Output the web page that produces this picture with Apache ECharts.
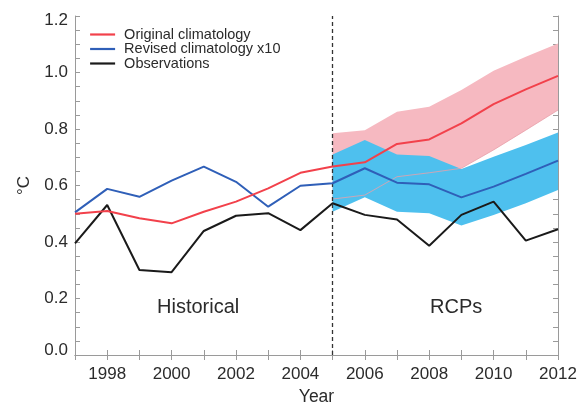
<!DOCTYPE html>
<html>
<head>
<meta charset="utf-8">
<script src="https://cdn.jsdelivr.net/npm/echarts@6/dist/echarts.min.js"></script>
<style>
  html, body { margin: 0; padding: 0; background: #fff; }
  #chart { width: 579px; height: 403px; }
</style>
</head>
<body>
<div id="chart"></div>
<script>
// Global temperature: model climatologies vs observations
const years = ['1997','1998','1999','2000','2001','2002','2003','2004',
               '2005','2006','2007','2008','2009','2010','2011','2012'];
const originalClim = [0.500, 0.510, 0.484, 0.466, 0.507, 0.543, 0.590, 0.645,
                      0.667, 0.682, 0.747, 0.763, 0.820, 0.888, 0.940, 0.988];
const revisedClim  = [0.505, 0.588, 0.560, 0.617, 0.667, 0.613, 0.525, 0.599,
                      0.608, 0.661, 0.610, 0.604, 0.558, 0.596, 0.641, 0.688];
const observations = [0.395, 0.531, 0.301, 0.293, 0.439, 0.493, 0.502, 0.442,
                      0.537, 0.496, 0.480, 0.387, 0.496, 0.543, 0.405, 0.445];
// RCP spread, 2005-2012
const bandYears    = ['2005','2006','2007','2008','2009','2010','2011','2012'];
const originalLow  = [0.552, 0.566, 0.631, 0.645, 0.661, 0.726, 0.796, 0.867];
const originalHigh = [0.785, 0.796, 0.861, 0.879, 0.938, 1.006, 1.056, 1.103];
const revisedLow   = [0.507, 0.558, 0.507, 0.502, 0.458, 0.496, 0.537, 0.584];
const revisedHigh  = [0.710, 0.761, 0.710, 0.704, 0.658, 0.702, 0.743, 0.788];
const yTicks = [0.0, 0.2, 0.4, 0.6, 0.8, 1.0, 1.2];

// place the band values on the full year axis
function onYears(vals) {
  return years.map(y => {
    const i = bandYears.indexOf(y);
    return i < 0 ? '-' : vals[i];
  });
}
function span(lo, hi) { return lo.map((v, i) => +(hi[i] - v).toFixed(3)); }

const font = 'Liberation Sans, Arial, sans-serif';
const axisGrey = '#9a9a9a';
const textCol = '#2b2b2b';

const chart = echarts.init(document.getElementById('chart'), null, { renderer: 'canvas' });

const tickInside = { show: true, inside: true, length: 5, interval: 0,
                     lineStyle: { color: axisGrey, width: 1 } };
const yLabelText = { fontFamily: font, fontSize: 17, color: textCol };

chart.setOption({
  animation: false,
  backgroundColor: '#fff',
  grid: { left: 75, right: 21, top: 16, bottom: 48, outerBoundsMode: 'none' },
  legend: {
    orient: 'vertical',
    left: 84, top: 22,
    itemWidth: 25, itemHeight: 14, itemGap: -0.5,
    itemStyle: { opacity: 0 },
    lineStyle: { width: 2.2 },
    data: ['Original climatology', 'Revised climatology x10', 'Observations'],
    textStyle: { fontFamily: font, fontSize: 14.5, color: textCol, lineHeight: 14,
                 padding: [0, 0, 0, 4] }
  },
  xAxis: [
    {
      type: 'category', data: years, boundaryGap: false,
      name: 'Year', nameLocation: 'middle', nameGap: 33,
      nameTextStyle: { fontFamily: font, fontSize: 17.5, color: textCol },
      axisLine: { lineStyle: { color: axisGrey } },
      axisTick: tickInside,
      axisLabel: {
        interval: (i, v) => (+v) % 2 === 0,
        margin: 11, fontFamily: font, fontSize: 17, color: textCol
      },
      splitLine: { show: false }
    },
    {
      type: 'category', data: years, boundaryGap: false, position: 'top',
      axisLine: { lineStyle: { color: axisGrey } },
      axisTick: tickInside,
      axisLabel: { show: false },
      splitLine: { show: false }
    }
  ],
  yAxis: [
    {
      type: 'value', min: 0, max: 1.2, interval: 0.2,
      name: '°C', nameLocation: 'middle', nameGap: 42,
      nameTextStyle: { fontFamily: font, fontSize: 17, color: textCol },
      axisLine: { show: true, lineStyle: { color: axisGrey } },
      axisTick: { show: true, inside: true, length: 5, lineStyle: { color: axisGrey } },
      minorTick: { show: true, splitNumber: 4, length: 5, lineStyle: { color: axisGrey } },
      axisLabel: {
        margin: 7,
        formatter: v => {
          const t = yTicks.find(k => Math.abs(k - v) < 1e-6);
          if (t === undefined) return '';
          const s = t.toFixed(1);
          // end labels are tucked inside the frame
          if (t === yTicks[yTicks.length - 1]) return '{top|' + s + '}';
          if (t === yTicks[0]) return '{bot|' + s + '}';
          return '{mid|' + s + '}';
        },
        rich: {
          mid: yLabelText,
          top: Object.assign({ padding: [9, 0, 0, 0] }, yLabelText),
          bot: Object.assign({ padding: [0, 0, 10, 0] }, yLabelText)
        }
      },
      splitLine: { show: false }
    },
    {
      type: 'value', min: 0, max: 1.2, interval: 0.2, position: 'right',
      axisLine: { show: true, lineStyle: { color: axisGrey } },
      axisTick: { show: true, inside: true, length: 5, lineStyle: { color: axisGrey } },
      minorTick: { show: true, splitNumber: 4, length: 5, lineStyle: { color: axisGrey } },
      axisLabel: { show: false },
      splitLine: { show: false }
    }
  ],
  graphic: [
    { type: 'text', left: 157, top: 297,
      style: { text: 'Historical', fontFamily: font, fontSize: 20, fill: textCol } },
    { type: 'text', left: 430, top: 297,
      style: { text: 'RCPs', fontFamily: font, fontSize: 20, fill: textCol } }
  ],
  series: [
    { name: 'origBase', type: 'line', stack: 'orig', data: onYears(originalLow),
      symbol: 'none', lineStyle: { opacity: 0 }, silent: true, z: 1 },
    { name: 'origSpan', type: 'line', stack: 'orig',
      data: onYears(span(originalLow, originalHigh)),
      symbol: 'none', lineStyle: { opacity: 0 },
      areaStyle: { color: '#f6b9c1', opacity: 1 }, silent: true, z: 1 },
    { name: 'revBase', type: 'line', stack: 'rev', data: onYears(revisedLow),
      symbol: 'none', lineStyle: { opacity: 0 }, silent: true, z: 2 },
    { name: 'revSpan', type: 'line', stack: 'rev',
      data: onYears(span(revisedLow, revisedHigh)),
      symbol: 'none', lineStyle: { opacity: 0 },
      areaStyle: { color: '#4ec0ee', opacity: 1 }, silent: true, z: 2 },
    { name: 'origLowEdge', type: 'line', data: onYears(originalLow),
      symbol: 'none', lineStyle: { color: '#e8a0aa', width: 1, opacity: 0.8 },
      silent: true, z: 3 },
    { name: 'Observations', type: 'line', data: observations,
      symbol: 'none', color: '#1a1a1a', lineStyle: { color: '#1a1a1a', width: 2 }, z: 4,
      markLine: {
        silent: true, symbol: 'none', label: { show: false },
        lineStyle: { color: '#333', width: 1.3, type: [4, 3] },
        data: [{ xAxis: '2005' }]
      } },
    { name: 'Revised climatology x10', type: 'line', data: revisedClim,
      symbol: 'none', color: '#2f5fb8', lineStyle: { color: '#2f5fb8', width: 2 }, z: 5 },
    { name: 'Original climatology', type: 'line', data: originalClim,
      symbol: 'none', color: '#f2414b', lineStyle: { color: '#f2414b', width: 2 }, z: 6 }
  ]
});
</script>
</body>
</html>
